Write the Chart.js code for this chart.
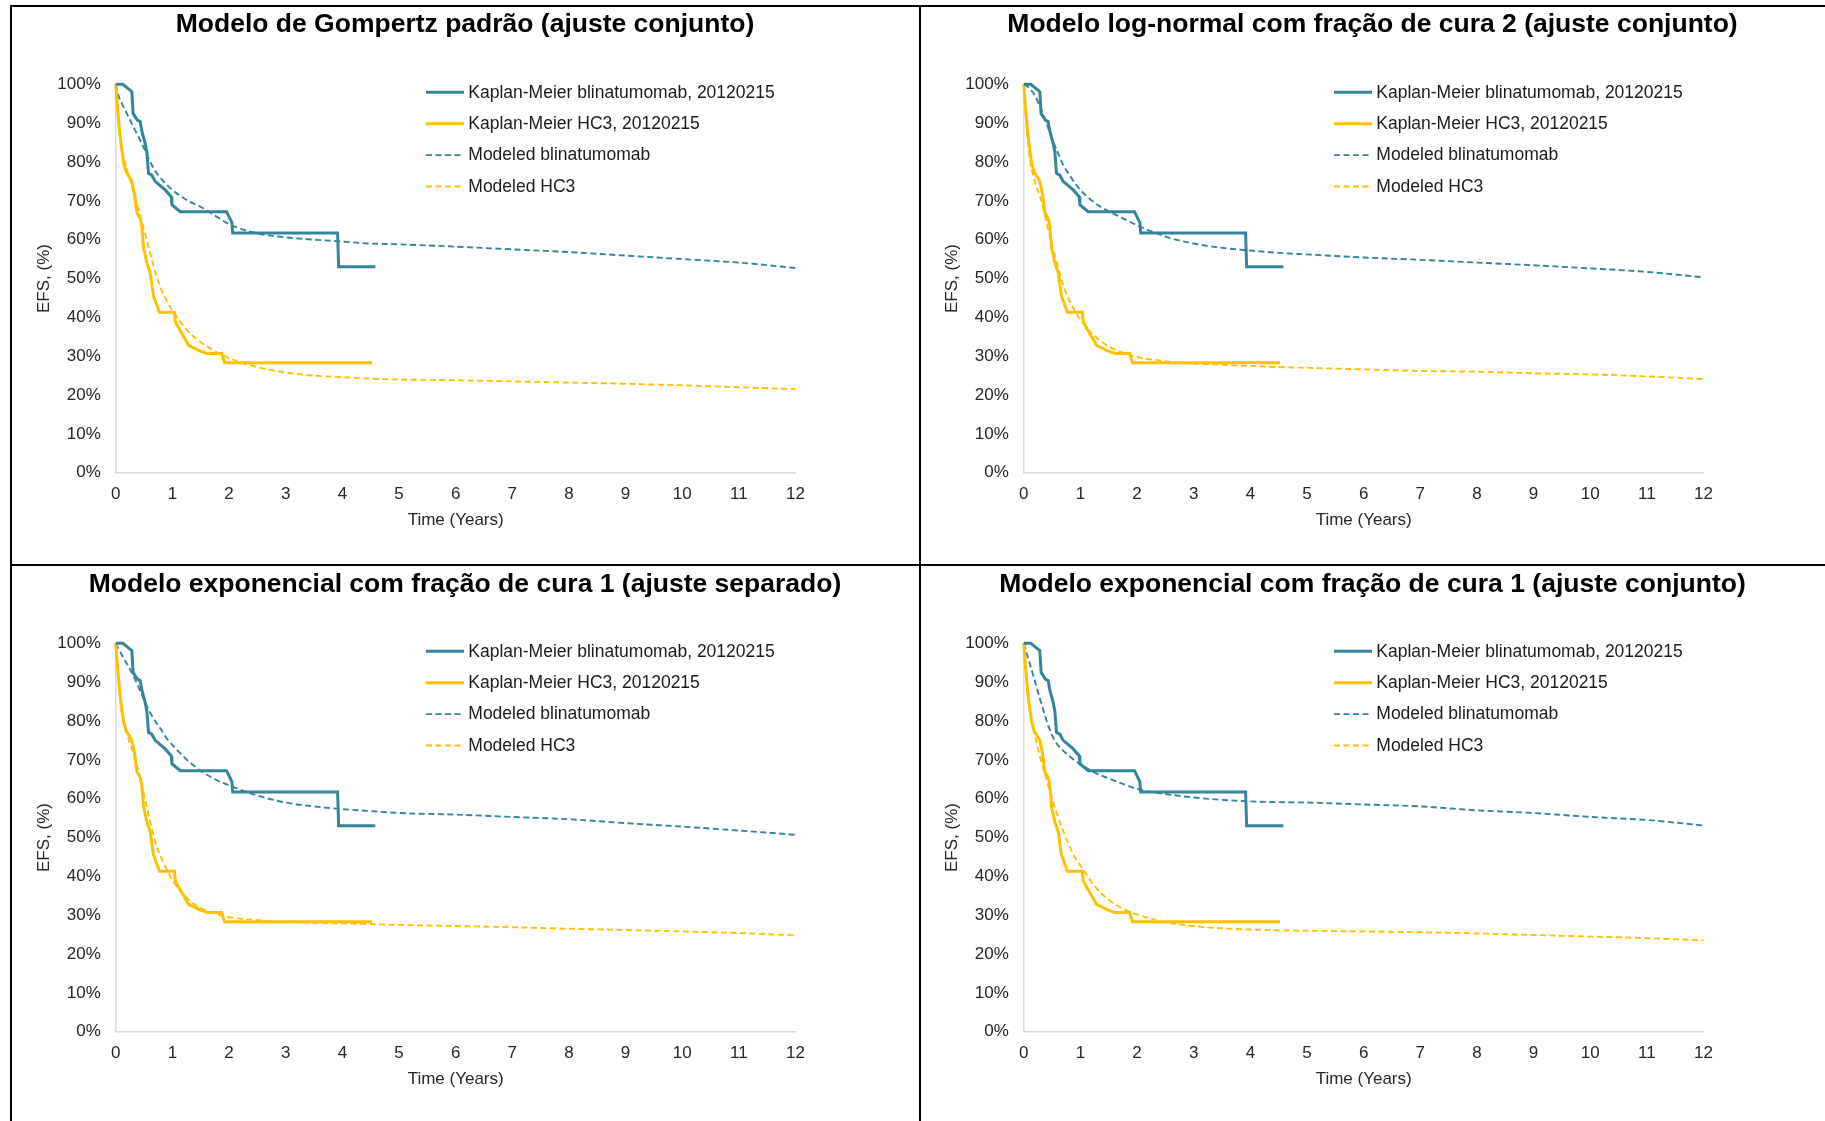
<!DOCTYPE html>
<html>
<head>
<meta charset="utf-8">
<script src="https://cdn.jsdelivr.net/npm/chart.js@4.4.1/dist/chart.umd.min.js"></script>
<style>
  html, body { margin: 0; padding: 0; background: #ffffff; }
  body { width: 1825px; height: 1121px; position: relative; overflow: hidden; }
  canvas { position: absolute; }
  .rule { position: absolute; background: #000; }
</style>
</head>
<body>
<div class="rule" style="left:9.5px; top:4.5px; width:1816px; height:2.5px;"></div>
<div class="rule" style="left:9.5px; top:4.5px; width:2.5px; height:1117px;"></div>
<div class="rule" style="left:9.5px; top:563.5px; width:1816px; height:2.5px;"></div>
<div class="rule" style="left:918.5px; top:4.5px; width:2.5px; height:1117px;"></div>

<canvas id="p1" width="906" height="555" style="left:12px; top:7px;"></canvas>
<canvas id="p2" width="905" height="555" style="left:920px; top:7px;"></canvas>
<canvas id="p3" width="906" height="555" style="left:12px; top:566px;"></canvas>
<canvas id="p4" width="905" height="555" style="left:920px; top:566px;"></canvas>

<script>
// Kaplan-Meier event-free survival (years, %)
const kmBlinaTime = [0, 0.124, 0.283, 0.305, 0.38, 0.43, 0.459, 0.518, 0.548, 0.577, 0.636, 0.695, 0.872, 0.98, 0.99, 1.137, 1.955, 2.049, 2.064, 3.916, 3.934, 4.582];
const kmBlinaEfs  = [100, 100, 98.1, 92.5, 90.8, 90.4, 88.0, 84.8, 82.6, 77.1, 76.6, 75.0, 72.8, 71.0, 69.0, 67.2, 67.2, 64.4, 61.7, 61.7, 53.0, 53.0];
const kmHc3Time = [0, 0.03, 0.06, 0.088, 0.135, 0.183, 0.283, 0.33, 0.371, 0.43, 0.459, 0.489, 0.548, 0.607, 0.665, 0.771, 1.034, 1.05, 1.1, 1.284, 1.49, 1.61, 1.87, 1.92, 4.523];
const kmHc3Efs  = [100, 94, 89, 85.2, 80, 77.5, 75, 71.8, 67, 65.5, 63.5, 58, 54, 51.5, 45.5, 41.3, 41.3, 39, 37.5, 32.8, 31.3, 30.7, 30.7, 28.3, 28.3];

// Modeled curves, read at common time points
const modelTime = [0, 0.05, 0.1, 0.2, 0.3, 0.4, 0.5, 0.6, 0.7, 0.8, 0.9, 1, 1.25, 1.5, 1.75, 2, 2.5, 3, 3.5, 4, 4.5, 5, 6, 7, 8, 9, 10, 11, 12];
const gompBlina = [100, 97, 95.3, 92.3, 89.3, 86.5, 83.5, 80.3, 77.6, 75.7, 74.1, 72.8, 70.2, 68.4, 66.2, 64.0, 61.6, 60.6, 60.0, 59.5, 59.0, 58.8, 58.2, 57.5, 56.8, 55.9, 55.0, 54.1, 52.7];
const gompHc3   = [100, 89.5, 84, 78, 73, 68, 62.5, 57, 51.5, 47.3, 44.2, 41.8, 36.8, 33.6, 31.3, 29.5, 27.2, 25.8, 25.0, 24.6, 24.2, 24.0, 23.8, 23.5, 23.2, 22.9, 22.5, 22.0, 21.5];
const lognBlina = [100, 99.6, 99, 97, 93.7, 90, 86, 82.4, 79.1, 76.8, 74.6, 72.8, 69.5, 67.3, 65.5, 63.7, 60.8, 59.0, 57.9, 57.2, 56.6, 56.2, 55.4, 54.8, 54.1, 53.4, 52.6, 51.7, 50.3];
const lognHc3   = [100, 89, 81.5, 74.7, 70.5, 64.5, 58.5, 53.2, 48.1, 44.5, 41.7, 39.3, 35.2, 32.5, 30.9, 29.8, 28.7, 28.1, 27.8, 27.5, 27.2, 27.0, 26.6, 26.2, 26.0, 25.6, 25.3, 24.8, 24.1];
const expSepBlina = [100, 98.6, 97.2, 94.6, 91.9, 88.8, 85.4, 82.3, 79.9, 77.8, 75.5, 73.8, 70.1, 67.2, 65.0, 63.4, 60.8, 59.0, 58.0, 57.3, 56.8, 56.3, 55.9, 55.3, 54.7, 53.7, 52.8, 51.8, 50.7];
const expSepHc3   = [100, 90, 82.5, 76.5, 72.2, 67.2, 61, 54.5, 48.7, 44.8, 41.8, 39.0, 34.5, 31.8, 30.5, 29.5, 28.7, 28.3, 28.0, 27.9, 27.7, 27.5, 27.2, 26.9, 26.5, 26.2, 25.8, 25.4, 24.8];
const expJointBlina = [100, 97.5, 95.1, 90, 85, 80.2, 76.3, 73.8, 72.3, 71.0, 69.8, 68.8, 66.7, 65.2, 63.8, 62.5, 61.2, 60.3, 59.7, 59.3, 59.1, 59.0, 58.5, 58.0, 57.0, 56.3, 55.3, 54.5, 53.1];
const expJointHc3   = [100, 90, 83, 76, 70, 65, 60, 55.5, 51.5, 48, 45, 42.8, 37.5, 34, 31.7, 30.2, 28.2, 27.2, 26.6, 26.3, 26.1, 26.0, 25.8, 25.6, 25.3, 24.9, 24.5, 24.1, 23.5];

const panelTitles = [
  'Modelo de Gompertz padrão (ajuste conjunto)',
  'Modelo log-normal com fração de cura 2 (ajuste conjunto)',
  'Modelo exponencial com fração de cura 1 (ajuste separado)',
  'Modelo exponencial com fração de cura 1 (ajuste conjunto)'
];
const seriesLabels = ['Kaplan-Meier blinatumomab, 20120215', 'Kaplan-Meier HC3, 20120215', 'Modeled blinatumomab', 'Modeled HC3'];
const xAxisTitle = 'Time (Years)';
const yAxisTitle = 'EFS, (%)';

const TEAL = '#31859C';
const GOLD = '#FFC000';
const FONT = "'Liberation Sans', Arial, sans-serif";

function pairs(xs, ys) { return xs.map((x, i) => ({ x: x, y: ys[i] })); }

// Bold heading centred over the whole panel
const panelTitle = {
  id: 'panelTitle',
  afterDraw(chart, args, opts) {
    const ctx = chart.ctx;
    ctx.save();
    ctx.fillStyle = '#000000';
    ctx.font = 'bold 26.5px ' + FONT;
    ctx.textAlign = 'center';
    ctx.textBaseline = 'middle';
    ctx.fillText(opts.text, chart.width / 2, opts.y);
    ctx.restore();
  }
};

// Legend drawn inside the plot area, upper right
const innerLegend = {
  id: 'innerLegend',
  afterDraw(chart) {
    const ctx = chart.ctx;
    const a = chart.chartArea;
    ctx.save();
    chart.data.datasets.forEach((ds, i) => {
      const y = a.top + 8 + i * 31.4;
      const x0 = a.left + 310.2;
      ctx.beginPath();
      ctx.strokeStyle = ds.borderColor;
      ctx.lineWidth = ds.borderWidth;
      ctx.setLineDash(ds.borderDash || []);
      ctx.moveTo(x0, y);
      ctx.lineTo(x0 + 38, y);
      ctx.stroke();
      ctx.setLineDash([]);
      ctx.fillStyle = '#1a1a1a';
      ctx.font = '17.5px ' + FONT;
      ctx.textAlign = 'left';
      ctx.textBaseline = 'middle';
      ctx.fillText(ds.label, a.left + 352.5, y + 0.5);
    });
    ctx.restore();
  }
};

function makePanel(id, title, titleY, modBlina, modHc3) {
  const canvas = document.getElementById(id);
  const rightPad = canvas.width - 103.8 - 679.7;
  return new Chart(canvas, {
    type: 'line',
    data: {
      datasets: [
        { label: seriesLabels[0], data: pairs(kmBlinaTime, kmBlinaEfs), borderColor: TEAL, borderWidth: 3, pointRadius: 0, tension: 0, clip: 6 },
        { label: seriesLabels[1], data: pairs(kmHc3Time, kmHc3Efs), borderColor: GOLD, borderWidth: 3, pointRadius: 0, tension: 0, clip: 6 },
        { label: seriesLabels[2], data: pairs(modelTime, modBlina), borderColor: TEAL, borderWidth: 1.9, borderDash: [6, 3.5], pointRadius: 0, cubicInterpolationMode: 'monotone', clip: 6 },
        { label: seriesLabels[3], data: pairs(modelTime, modHc3), borderColor: GOLD, borderWidth: 1.9, borderDash: [6, 3.5], pointRadius: 0, cubicInterpolationMode: 'monotone', clip: 6 }
      ]
    },
    options: {
      responsive: false,
      animation: false,
      devicePixelRatio: 1,
      layout: { padding: { left: 0, top: 77.3, right: rightPad, bottom: 0 } },
      plugins: {
        legend: { display: false },
        tooltip: { enabled: false },
        title: { display: false },
        panelTitle: { text: title, y: titleY }
      },
      scales: {
        x: {
          type: 'linear',
          min: 0, max: 12,
          afterFit: (s) => { s.height = 89.3; },
          grid: { color: 'rgba(0,0,0,0)', drawTicks: false },
          border: { display: true, color: '#d9d9d9', width: 1.5 },
          ticks: { stepSize: 1, padding: 11, color: '#262626', font: { family: FONT, size: 17 }, maxRotation: 0 },
          title: { display: true, text: xAxisTitle, color: '#262626', font: { family: FONT, size: 17 }, padding: { top: 0, bottom: 31.5 } }
        },
        y: {
          min: 0, max: 100,
          afterFit: (s) => { s.width = 103.8; },
          grid: { color: 'rgba(0,0,0,0)', drawTicks: false },
          border: { display: true, color: '#d9d9d9', width: 1.5 },
          ticks: { stepSize: 10, padding: 15, color: '#262626', font: { family: FONT, size: 17 }, callback: (v) => v + '%' },
          title: { display: true, text: yAxisTitle, color: '#262626', font: { family: FONT, size: 17 }, padding: { top: 21.8, bottom: 0 } }
        }
      }
    },
    plugins: [innerLegend, panelTitle]
  });
}

makePanel('p1', panelTitles[0], 17.2, gompBlina, gompHc3);
makePanel('p2', panelTitles[1], 17.2, lognBlina, lognHc3);
makePanel('p3', panelTitles[2], 18.5, expSepBlina, expSepHc3);
makePanel('p4', panelTitles[3], 18.5, expJointBlina, expJointHc3);
</script>
</body>
</html>
